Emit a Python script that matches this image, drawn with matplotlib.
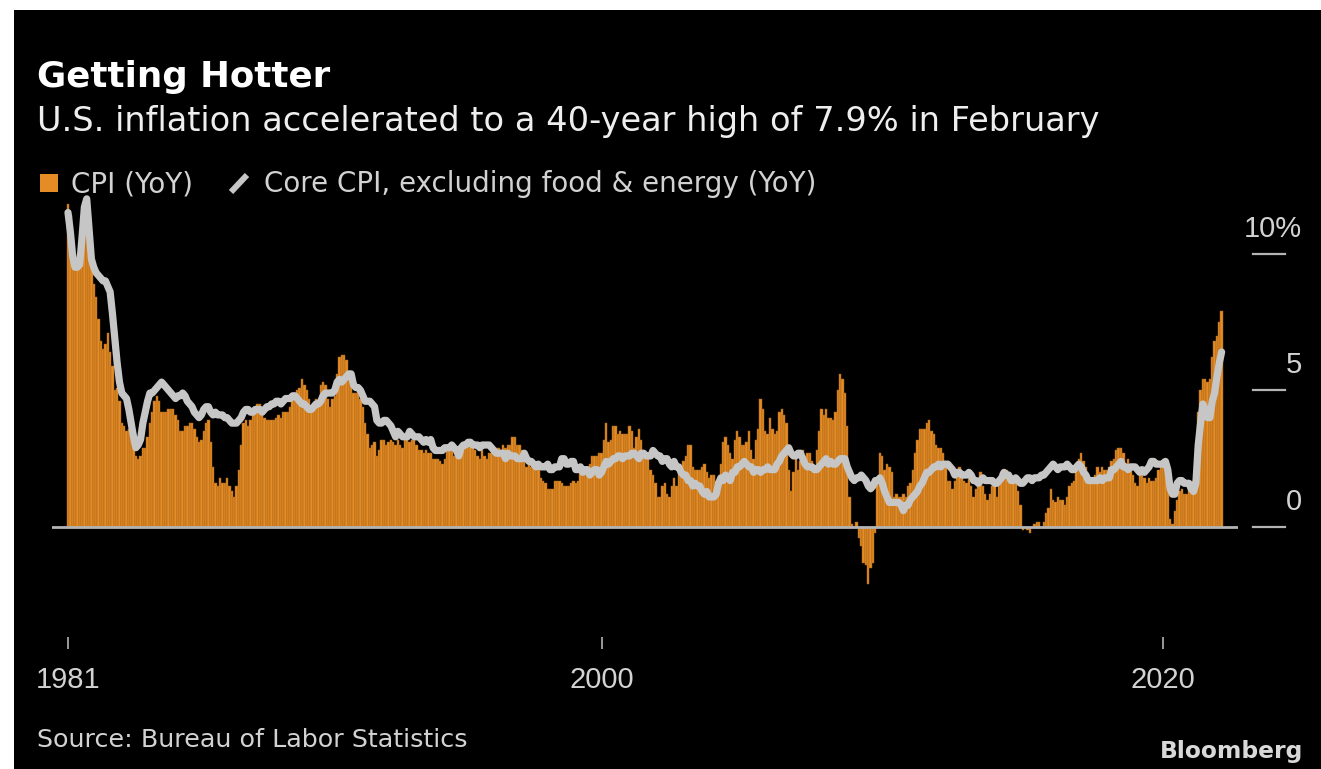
import matplotlib
matplotlib.use("Agg")
import matplotlib.pyplot as plt
import matplotlib.transforms as mtransforms
from matplotlib.patches import Rectangle
from matplotlib.lines import Line2D
import numpy as np

# ---------------- data ----------------
start_year = 1981
# CPI all items, YoY %, monthly Jan 1981 - Feb 2022
cpi_yoy = [
    11.8, 11.4, 10.5, 10.0, 9.8, 9.6, 10.8, 10.8, 11.0, 10.1, 9.6, 8.9,   # 1981
    8.4, 7.6, 6.8, 6.5, 6.7, 7.1, 6.4, 5.9, 5.0, 5.1, 4.6, 3.8,           # 1982
    3.7, 3.5, 3.6, 3.9, 3.5, 2.6, 2.5, 2.6, 2.9, 2.9, 3.3, 3.8,           # 1983
    4.2, 4.6, 4.8, 4.6, 4.2, 4.2, 4.2, 4.3, 4.3, 4.3, 4.1, 3.9,           # 1984
    3.5, 3.5, 3.7, 3.7, 3.8, 3.8, 3.6, 3.3, 3.1, 3.2, 3.5, 3.8,           # 1985
    3.9, 3.1, 2.2, 1.6, 1.5, 1.8, 1.6, 1.6, 1.8, 1.5, 1.3, 1.1,           # 1986
    1.5, 2.1, 3.0, 3.8, 3.9, 3.7, 3.9, 4.3, 4.4, 4.5, 4.5, 4.4,           # 1987
    4.0, 3.9, 3.9, 3.9, 3.9, 4.0, 4.1, 4.0, 4.2, 4.2, 4.2, 4.4,           # 1988
    4.7, 4.8, 5.0, 5.1, 5.4, 5.2, 5.0, 4.7, 4.3, 4.5, 4.7, 4.6,           # 1989
    5.2, 5.3, 5.2, 4.7, 4.4, 4.7, 4.8, 5.6, 6.2, 6.3, 6.3, 6.1,           # 1990
    5.7, 5.3, 4.9, 4.9, 5.0, 4.7, 4.4, 3.8, 3.4, 2.9, 3.0, 3.1,           # 1991
    2.6, 2.8, 3.2, 3.2, 3.0, 3.1, 3.2, 3.1, 3.0, 3.2, 3.0, 2.9,           # 1992
    3.3, 3.2, 3.1, 3.2, 3.2, 3.0, 2.8, 2.8, 2.7, 2.8, 2.7, 2.7,           # 1993
    2.5, 2.5, 2.5, 2.4, 2.3, 2.5, 2.8, 2.9, 3.0, 2.6, 2.7, 2.7,           # 1994
    2.8, 2.9, 2.9, 3.1, 3.2, 3.0, 2.8, 2.6, 2.5, 2.8, 2.6, 2.5,           # 1995
    2.7, 2.7, 2.8, 2.9, 2.9, 2.8, 3.0, 2.9, 3.0, 3.0, 3.3, 3.3,           # 1996
    3.0, 3.0, 2.8, 2.5, 2.2, 2.3, 2.2, 2.2, 2.2, 2.1, 1.8, 1.7,           # 1997
    1.6, 1.4, 1.4, 1.4, 1.7, 1.7, 1.7, 1.6, 1.5, 1.5, 1.5, 1.6,           # 1998
    1.7, 1.6, 1.7, 2.3, 2.1, 2.0, 2.1, 2.3, 2.6, 2.6, 2.6, 2.7,           # 1999
    2.7, 3.2, 3.8, 3.1, 3.2, 3.7, 3.7, 3.4, 3.5, 3.4, 3.4, 3.4,           # 2000
    3.7, 3.5, 2.9, 3.3, 3.6, 3.2, 2.7, 2.7, 2.6, 2.1, 1.9, 1.6,           # 2001
    1.1, 1.1, 1.5, 1.6, 1.2, 1.1, 1.5, 1.8, 1.5, 2.0, 2.2, 2.4,           # 2002
    2.6, 3.0, 3.0, 2.2, 2.1, 2.1, 2.1, 2.2, 2.3, 2.0, 1.8, 1.9,           # 2003
    1.9, 1.7, 1.7, 2.3, 3.1, 3.3, 3.0, 2.7, 2.5, 3.2, 3.5, 3.3,           # 2004
    3.0, 3.0, 3.1, 3.5, 2.8, 2.5, 3.2, 3.6, 4.7, 4.3, 3.5, 3.4,           # 2005
    4.0, 3.6, 3.4, 3.5, 4.2, 4.3, 4.1, 3.8, 2.1, 1.3, 2.0, 2.5,           # 2006
    2.1, 2.4, 2.8, 2.6, 2.7, 2.7, 2.4, 2.0, 2.8, 3.5, 4.3, 4.1,           # 2007
    4.3, 4.0, 4.0, 3.9, 4.2, 5.0, 5.6, 5.4, 4.9, 3.7, 1.1, 0.1,           # 2008
    0.0, 0.2, -0.4, -0.7, -1.3, -1.4, -2.1, -1.5, -1.3, -0.2, 1.8, 2.7,   # 2009
    2.6, 2.1, 2.3, 2.2, 2.0, 1.1, 1.2, 1.1, 1.1, 1.2, 1.1, 1.5,           # 2010
    1.6, 2.1, 2.7, 3.2, 3.6, 3.6, 3.6, 3.8, 3.9, 3.5, 3.4, 3.0,           # 2011
    2.9, 2.9, 2.7, 2.3, 1.7, 1.7, 1.4, 1.7, 2.0, 2.2, 1.8, 1.7,           # 2012
    1.6, 2.0, 1.5, 1.1, 1.4, 1.8, 2.0, 1.5, 1.2, 1.0, 1.2, 1.5,           # 2013
    1.6, 1.1, 1.5, 2.0, 2.1, 2.1, 2.0, 1.7, 1.7, 1.7, 1.3, 0.8,           # 2014
    -0.1, 0.0, -0.1, -0.2, 0.0, 0.1, 0.2, 0.2, 0.0, 0.2, 0.5, 0.7,        # 2015
    1.4, 1.0, 0.9, 1.1, 1.0, 1.0, 0.8, 1.1, 1.5, 1.6, 1.7, 2.1,           # 2016
    2.5, 2.7, 2.4, 2.2, 1.9, 1.6, 1.7, 1.9, 2.2, 2.0, 2.2, 2.1,           # 2017
    2.1, 2.2, 2.4, 2.5, 2.8, 2.9, 2.9, 2.7, 2.3, 2.5, 2.2, 1.9,           # 2018
    1.6, 1.5, 1.9, 2.0, 1.8, 1.6, 1.8, 1.7, 1.7, 1.8, 2.1, 2.3,           # 2019
    2.5, 2.3, 1.5, 0.3, 0.1, 0.6, 1.0, 1.3, 1.4, 1.2, 1.2, 1.4,           # 2020
    1.4, 1.7, 2.6, 4.2, 5.0, 5.4, 5.4, 5.3, 5.4, 6.2, 6.8, 7.0,           # 2021
    7.5, 7.9,                                                             # 2022
]
# Core CPI (ex food & energy), YoY %, monthly Jan 1981 - Feb 2022
core_yoy = [
    11.5, 10.8, 9.9, 9.5, 9.5, 9.6, 10.6, 11.7, 12.0, 10.9, 9.8, 9.5,     # 1981
    9.3, 9.2, 9.1, 9.0, 9.0, 8.8, 8.6, 7.8, 6.9, 6.0, 5.3, 4.9,           # 1982
    4.8, 4.7, 4.3, 3.8, 3.3, 2.9, 3.0, 3.2, 3.8, 4.2, 4.6, 4.9,           # 1983
    4.9, 5.0, 5.1, 5.2, 5.3, 5.2, 5.1, 5.0, 4.9, 4.8, 4.7, 4.8,           # 1984
    4.8, 4.9, 4.8, 4.6, 4.5, 4.4, 4.2, 4.1, 4.0, 4.1, 4.3, 4.4,           # 1985
    4.4, 4.2, 4.1, 4.2, 4.1, 4.1, 4.1, 4.0, 4.0, 3.9, 3.8, 3.8,           # 1986
    3.8, 3.9, 4.0, 4.2, 4.3, 4.3, 4.2, 4.2, 4.3, 4.3, 4.3, 4.2,           # 1987
    4.3, 4.4, 4.4, 4.5, 4.5, 4.6, 4.6, 4.5, 4.6, 4.7, 4.7, 4.7,           # 1988
    4.8, 4.8, 4.7, 4.6, 4.5, 4.5, 4.4, 4.3, 4.3, 4.4, 4.5, 4.5,           # 1989
    4.6, 4.8, 4.9, 4.9, 4.9, 4.9, 5.0, 5.3, 5.4, 5.3, 5.4, 5.5,           # 1990
    5.6, 5.6, 5.2, 5.1, 5.1, 5.0, 4.8, 4.6, 4.6, 4.6, 4.5, 4.4,           # 1991
    3.9, 3.8, 3.8, 3.9, 3.9, 3.8, 3.7, 3.5, 3.3, 3.5, 3.4, 3.3,           # 1992
    3.3, 3.3, 3.5, 3.4, 3.3, 3.3, 3.3, 3.2, 3.1, 3.2, 3.1, 3.2,           # 1993
    2.9, 2.8, 2.8, 2.8, 2.8, 2.9, 2.9, 2.9, 3.0, 2.9, 2.8, 2.6,           # 1994
    2.9, 3.0, 3.0, 3.1, 3.1, 3.0, 3.0, 3.0, 2.9, 3.0, 3.0, 3.0,           # 1995
    3.0, 2.9, 2.8, 2.7, 2.7, 2.7, 2.7, 2.5, 2.7, 2.6, 2.6, 2.6,           # 1996
    2.5, 2.5, 2.5, 2.7, 2.5, 2.4, 2.4, 2.3, 2.2, 2.3, 2.2, 2.2,           # 1997
    2.2, 2.3, 2.1, 2.1, 2.2, 2.2, 2.2, 2.5, 2.5, 2.3, 2.3, 2.4,           # 1998
    2.4, 2.1, 2.1, 2.2, 2.0, 2.1, 2.1, 1.9, 2.0, 2.1, 2.1, 1.9,           # 1999
    2.0, 2.2, 2.4, 2.3, 2.4, 2.5, 2.5, 2.6, 2.6, 2.5, 2.6, 2.6,           # 2000
    2.6, 2.7, 2.7, 2.6, 2.5, 2.7, 2.7, 2.6, 2.6, 2.6, 2.8, 2.7,           # 2001
    2.6, 2.6, 2.4, 2.5, 2.5, 2.3, 2.2, 2.4, 2.2, 2.2, 2.0, 1.9,           # 2002
    1.9, 1.7, 1.7, 1.5, 1.6, 1.5, 1.5, 1.3, 1.2, 1.3, 1.1, 1.1,           # 2003
    1.1, 1.2, 1.6, 1.8, 1.7, 1.9, 1.8, 1.7, 2.0, 2.0, 2.2, 2.2,           # 2004
    2.3, 2.4, 2.3, 2.2, 2.2, 2.0, 2.1, 2.1, 2.0, 2.1, 2.1, 2.2,           # 2005
    2.1, 2.1, 2.1, 2.3, 2.4, 2.6, 2.7, 2.8, 2.9, 2.7, 2.6, 2.6,           # 2006
    2.7, 2.7, 2.5, 2.3, 2.2, 2.2, 2.2, 2.1, 2.1, 2.2, 2.3, 2.4,           # 2007
    2.5, 2.3, 2.4, 2.3, 2.3, 2.4, 2.5, 2.5, 2.5, 2.2, 2.0, 1.8,           # 2008
    1.7, 1.8, 1.8, 1.9, 1.8, 1.7, 1.5, 1.4, 1.5, 1.7, 1.7, 1.8,           # 2009
    1.6, 1.3, 1.1, 0.9, 0.9, 0.9, 0.9, 0.9, 0.8, 0.6, 0.8, 0.8,           # 2010
    1.0, 1.1, 1.2, 1.3, 1.5, 1.6, 1.8, 2.0, 2.0, 2.1, 2.2, 2.2,           # 2011
    2.3, 2.2, 2.3, 2.3, 2.3, 2.2, 2.1, 1.9, 2.0, 2.0, 1.9, 1.9,           # 2012
    1.9, 2.0, 1.9, 1.7, 1.7, 1.6, 1.7, 1.8, 1.7, 1.7, 1.7, 1.7,           # 2013
    1.6, 1.6, 1.7, 1.8, 2.0, 1.9, 1.9, 1.7, 1.7, 1.8, 1.7, 1.6,           # 2014
    1.6, 1.7, 1.8, 1.8, 1.7, 1.8, 1.8, 1.8, 1.9, 1.9, 2.0, 2.1,           # 2015
    2.2, 2.3, 2.2, 2.1, 2.2, 2.2, 2.2, 2.3, 2.2, 2.1, 2.1, 2.2,           # 2016
    2.3, 2.2, 2.0, 1.9, 1.7, 1.7, 1.7, 1.7, 1.7, 1.8, 1.7, 1.8,           # 2017
    1.8, 1.8, 2.1, 2.1, 2.2, 2.3, 2.4, 2.2, 2.2, 2.1, 2.2, 2.2,           # 2018
    2.2, 2.1, 2.0, 2.1, 2.0, 2.1, 2.2, 2.4, 2.4, 2.3, 2.3, 2.3,           # 2019
    2.3, 2.4, 2.1, 1.4, 1.2, 1.2, 1.6, 1.7, 1.7, 1.6, 1.6, 1.6,           # 2020
    1.4, 1.3, 1.6, 3.0, 3.8, 4.5, 4.3, 4.0, 4.0, 4.6, 4.9, 5.5,           # 2021
    6.0, 6.4,                                                             # 2022
]
xtick_years = [1981, 2000, 2020]
xtick_labels = ["1981", "2000", "2020"]
ytick_values = [0, 5, 10]
ytick_labels = ["0", "5", "10%"]

title = "Getting Hotter"
subtitle = "U.S. inflation accelerated to a 40-year high of 7.9% in February"
legend_cpi = "CPI (YoY)"
legend_core = "Core CPI, excluding food & energy (YoY)"
source = "Source: Bureau of Labor Statistics"

# ---------------- style ----------------
W, H = 1321, 769
BAR_C = "#E58C24"
BAR_EDGE = "#A0601A"
LINE_C = "#C6C6C6"
AX_C = "#B4B4B4"
TXT_C = "#D2D2D2"
TICK_FONT = "Liberation Sans"

def fx(px):
    return px / W

def fy(py):
    return 1 - py / H

fig = plt.figure(figsize=(W / 100, H / 100), dpi=100)
fig.patch.set_facecolor("white")
fig.patches.append(Rectangle((fx(14), 0), 1.01 - fx(14), fy(10), transform=fig.transFigure,
                             facecolor="black", edgecolor="none", zorder=-5))

ax_l, ax_r, ax_t, ax_b = 52, 1238, 186, 637
ax = fig.add_axes([fx(ax_l), fy(ax_b), fx(ax_r - ax_l), (ax_b - ax_t) / H])
ax.set_zorder(2)
ax.set_facecolor("black")
for s in ax.spines.values():
    s.set_visible(False)

t_cpi = start_year + np.arange(len(cpi_yoy)) / 12.0
t_core = start_year + np.arange(len(core_yoy)) / 12.0

ax.bar(t_cpi, cpi_yoy, width=1.0 / 12, color=BAR_C, edgecolor=BAR_EDGE,
       linewidth=0.35, zorder=2)
ax.axhline(0, color=AX_C, lw=2.0, zorder=3)
ax.plot(t_core, core_yoy, color=LINE_C, lw=5.2, solid_capstyle="round",
        solid_joinstyle="round", zorder=4)

px_per_year = 28.08
x0 = start_year - (68 - ax_l) / px_per_year
x1 = start_year + (ax_r - 68) / px_per_year
ax.set_xlim(x0, x1)
ax.set_ylim(-4.02, 12.47)

ax.set_xticks(xtick_years)
ax.set_xticklabels(xtick_labels)
ax.tick_params(axis="x", direction="out", length=8.6, width=1.2, color=AX_C,
               labelcolor=TXT_C, labelsize=21, pad=12)
for lab in ax.get_xticklabels():
    lab.set_fontfamily(TICK_FONT)
ax.set_yticks([])

# right-hand value ticks
trans = mtransforms.blended_transform_factory(fig.transFigure, ax.transData)
trans_lab = mtransforms.offset_copy(trans, fig=fig, y=17, units="dots")
for v, lab in zip(ytick_values, ytick_labels):
    ax.plot([fx(1253), fx(1285)], [v, v], transform=trans, color=AX_C, lw=1.6,
            clip_on=False, zorder=5)
    ax.text(fx(1302), v, lab, transform=trans_lab, ha="right", va="baseline",
            color=TXT_C, fontsize=21, family=TICK_FONT, clip_on=False)

# titles
fig.text(fx(37), fy(87), title, color="white", fontsize=25.7, fontweight="bold",
         ha="left", va="baseline")
fig.text(fx(37), fy(131), subtitle, color="#EEEEEE", fontsize=24.2,
         ha="left", va="baseline")

# legend
fig.patches.append(Rectangle((fx(40), fy(192)), fx(18), 18 / H, transform=fig.transFigure,
                             facecolor=BAR_C, edgecolor="none", zorder=3))
fig.text(fx(71), fy(192), legend_cpi, color=TXT_C, fontsize=20, ha="left", va="baseline")
fig.lines.append(Line2D([fx(231), fx(247)], [fy(192), fy(175)], transform=fig.transFigure,
                        color=LINE_C, lw=4.3, solid_capstyle="butt"))
fig.text(fx(264), fy(192), legend_core, color=TXT_C, fontsize=20, ha="left", va="baseline")

# footer
fig.text(fx(37), fy(747), source, color=TXT_C, fontsize=18.3, ha="left", va="baseline")
fig.text(fx(1303), fy(758), "Bloomberg", color="#D8D8D8", fontsize=16.8, fontweight="bold",
         ha="right", va="baseline")

fig.savefig("out.png", dpi=100, facecolor=fig.get_facecolor())
